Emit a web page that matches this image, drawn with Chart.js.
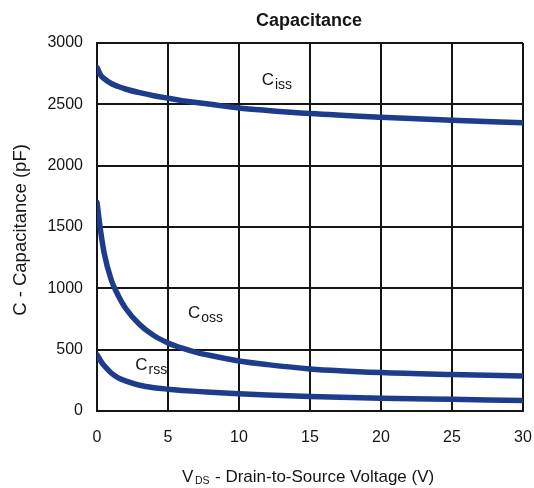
<!DOCTYPE html>
<html lang="en">
<head>
    <meta charset="UTF-8">
    <title>Capacitance</title>
    <script src="https://cdn.jsdelivr.net/npm/chart.js@4.4.0/dist/chart.umd.min.js"></script>
    <style>
        html, body { margin: 0; padding: 0; background: #fff; }
    </style>
</head>
<body>
    <canvas id="chart" width="534" height="488"></canvas>
    <script>
        // values (VDS in volts, C in pF)
        const vds  = [0, 0.25, 0.5, 1, 1.5, 2, 3, 4, 5, 6, 7, 8, 10, 12, 15, 20, 25, 30];
        const ciss = [2800, 2740, 2710, 2670, 2645, 2625, 2595, 2570, 2550, 2530, 2515, 2500, 2470, 2450, 2425, 2395, 2370, 2350];
        const coss = [1700, 1470, 1290, 1070, 940, 840, 705, 615, 555, 512, 478, 452, 408, 378, 343, 313, 297, 285];
        const crss = [460, 410, 370, 310, 270, 245, 210, 190, 178, 168, 160, 153, 140, 130, 118, 104, 95, 86];
        const xTicks = [0, 5, 10, 15, 20, 25, 30];
        const yTicks = [0, 500, 1000, 1500, 2000, 2500, 3000];

        const FONT = 'Liberation Sans, Arial, sans-serif';
        const lineColor = '#1d3d8c';
        const ink = '#151515';

        const toPts = ys => vds.map((x, i) => ({ x: x, y: ys[i] }));

        // curve labels, title and axis titles drawn by hand because of the subscripts
        const textPlugin = {
            id: 'texts',
            afterDraw(chart) {
                const ctx = chart.ctx;
                const xs = chart.scales.x, ys = chart.scales.y;
                ctx.save();
                ctx.fillStyle = ink;
                ctx.textBaseline = 'alphabetic';
                ctx.textAlign = 'left';

                function sub(x, y, main, small) {
                    ctx.font = '17px ' + FONT;
                    ctx.fillText(main, x, y);
                    const w = ctx.measureText(main).width;
                    ctx.font = '14px ' + FONT;
                    ctx.fillText(small, x + w + 1, y + 4);
                }
                sub(xs.getPixelForValue(11.6), ys.getPixelForValue(2657), 'C', 'iss');
                sub(xs.getPixelForValue(6.4), ys.getPixelForValue(757), 'C', 'oss');
                sub(xs.getPixelForValue(2.7), ys.getPixelForValue(334), 'C', 'rss');

                // title
                ctx.font = 'bold 18px ' + FONT;
                ctx.textAlign = 'center';
                ctx.fillText('Capacitance', 309, 26);

                // x axis title: V with DS subscript
                ctx.textAlign = 'left';
                ctx.font = '17px ' + FONT;
                ctx.fillText('V', 182, 482);
                ctx.font = '10.5px ' + FONT;
                ctx.fillText('DS', 195, 484);
                ctx.font = '17px ' + FONT;
                ctx.fillText('- Drain-to-Source Voltage (V)', 215, 482);

                // y axis title
                ctx.translate(26, 230);
                ctx.rotate(-Math.PI / 2);
                ctx.textAlign = 'center';
                ctx.font = '18.5px ' + FONT;
                ctx.fillText('C - Capacitance (pF)', 0, 0);
                ctx.restore();
            }
        };

        const ctx = document.getElementById('chart').getContext('2d');
        const myChart = new Chart(ctx, {
            type: 'line',
            data: {
                datasets: [
                    { label: 'Ciss', data: toPts(ciss) },
                    { label: 'Coss', data: toPts(coss) },
                    { label: 'Crss', data: toPts(crss) }
                ]
            },
            options: {
                responsive: false,
                animation: false,
                layout: { padding: { left: 0, top: 43, right: 11, bottom: 0 } },
                elements: {
                    point: { radius: 0 },
                    line: { borderColor: lineColor, borderWidth: 5.5, cubicInterpolationMode: 'monotone', borderCapStyle: 'round' }
                },
                plugins: {
                    legend: { display: false },
                    title: { display: false },
                    tooltip: { enabled: false }
                },
                scales: {
                    x: {
                        type: 'linear',
                        min: 0, max: 30,
                        afterBuildTicks: s => { s.ticks = xTicks.map(v => ({ value: v })); },
                        afterFit: s => { s.height = 77; s.paddingLeft = 0; s.paddingRight = 0; },
                        grid: { color: ink, lineWidth: 2, drawTicks: false },
                        border: { color: ink, width: 2 },
                        ticks: { color: ink, padding: 17, font: { family: FONT, size: 16 }, callback: v => String(v) }
                    },
                    y: {
                        min: 0, max: 3000,
                        afterBuildTicks: s => { s.ticks = yTicks.map(v => ({ value: v })); },
                        afterFit: s => { s.width = 97; s.paddingTop = 0; s.paddingBottom = 0; },
                        grid: { color: ink, lineWidth: 2, drawTicks: false },
                        border: { color: ink, width: 2 },
                        ticks: { color: ink, padding: 14, font: { family: FONT, size: 16 }, callback: v => String(v) }
                    }
                }
            },
            plugins: [textPlugin]
        });
    </script>
</body>
</html>
